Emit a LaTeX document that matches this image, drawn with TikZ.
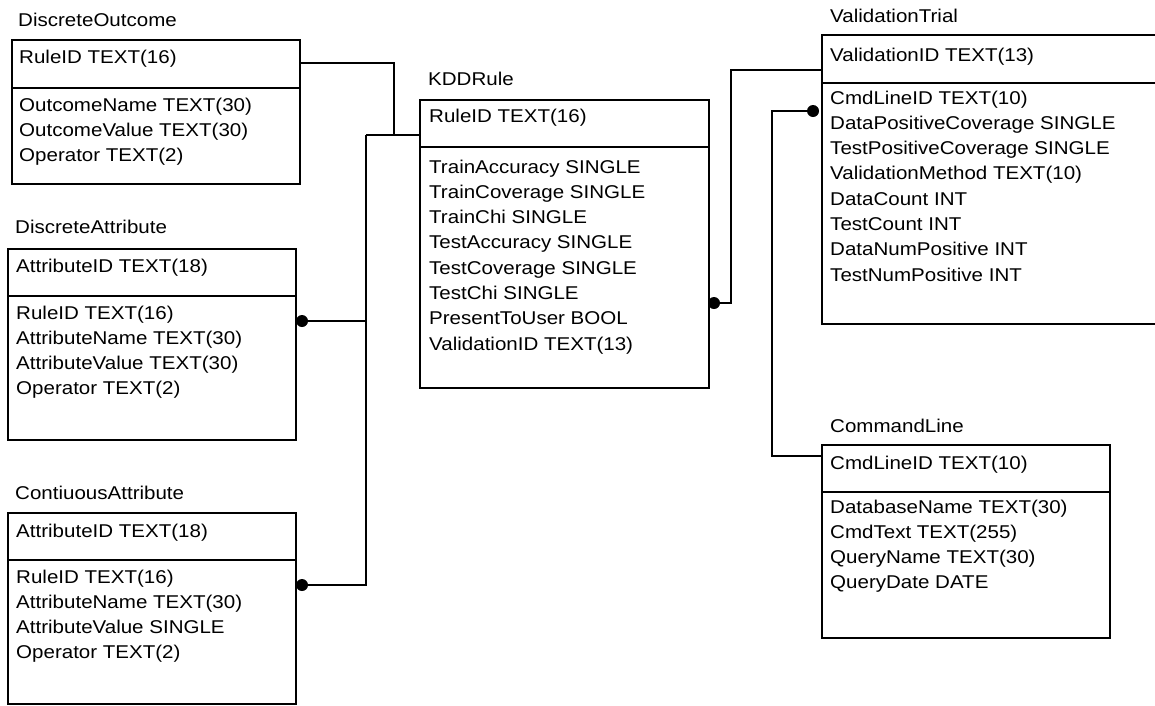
\documentclass[tikz,border=0pt]{standalone}
\usepackage{fontspec}
\setmainfont{Liberation Sans}[FakeStretch=1.11]
\begin{document}
\begin{tikzpicture}[x=1pt,y=-1pt,font=\fontsize{18.5}{22}\selectfont,
  ent/.style={draw, line width=1.7pt, rectangle, inner sep=0pt, anchor=north west},
  fld/.style={anchor=base west, inner sep=0pt},
  ttl/.style={anchor=base west, inner sep=0pt},
  conn/.style={line width=1.7pt},
  fkdot/.style={circle, fill=black, inner sep=0pt, minimum size=12pt}]
\useasboundingbox (0,0) rectangle (1155,705);
\newcommand\fieldrows[4]{%
  \foreach \t [count=\i] in {#4} {\node[fld] (#1-\i) at (#2,{#3+25.3*(\i-1)}) {\t};}}

% DiscreteOutcome
\node[ttl] (do-t) at (18,26) {DiscreteOutcome};
\node[ent, minimum width=288pt, minimum height=144pt] (do) at (11,39) {};
\draw[conn] (do.west |- 0,88) -- (do.east |- 0,88);
\node[fld] (do-k) at (19,63) {RuleID TEXT(16)};
\fieldrows{do}{19}{111}{OutcomeName TEXT(30),OutcomeValue TEXT(30),Operator TEXT(2)}

% DiscreteAttribute
\node[ttl] (da-t) at (15,233) {DiscreteAttribute};
\node[ent, minimum width=288pt, minimum height=191pt] (da) at (7,248) {};
\draw[conn] (da.west |- 0,296) -- (da.east |- 0,296);
\node[fld] (da-k) at (16,272) {AttributeID TEXT(18)};
\fieldrows{da}{16}{319}{RuleID TEXT(16),AttributeName TEXT(30),AttributeValue TEXT(30),Operator TEXT(2)}

% ContiuousAttribute
\node[ttl] (ca-t) at (15,499) {ContiuousAttribute};
\node[ent, minimum width=288pt, minimum height=191pt] (ca) at (7,512) {};
\draw[conn] (ca.west |- 0,560) -- (ca.east |- 0,560);
\node[fld] (ca-k) at (16,537) {AttributeID TEXT(18)};
\fieldrows{ca}{16}{583}{RuleID TEXT(16),AttributeName TEXT(30),AttributeValue SINGLE,Operator TEXT(2)}

% KDDRule
\node[ttl] (kdd-t) at (428,85) {KDDRule};
\node[ent, minimum width=289pt, minimum height=288pt] (kdd) at (419,99) {};
\draw[conn] (kdd.west |- 0,147) -- (kdd.east |- 0,147);
\node[fld] (kdd-k) at (429,122) {RuleID TEXT(16)};
\fieldrows{kdd}{429}{173}{TrainAccuracy SINGLE,TrainCoverage SINGLE,TrainChi SINGLE,TestAccuracy SINGLE,TestCoverage SINGLE,TestChi SINGLE,PresentToUser BOOL,ValidationID TEXT(13)}

% ValidationTrial
\node[ttl] (vt-t) at (830,22) {ValidationTrial};
\node[ent, minimum width=340pt, minimum height=289pt] (vt) at (821,34) {};
\draw[conn] (vt.west |- 0,83) -- (vt.east |- 0,83);
\node[fld] (vt-k) at (830,61) {ValidationID TEXT(13)};
\fieldrows{vt}{830}{104}{CmdLineID TEXT(10),DataPositiveCoverage SINGLE,TestPositiveCoverage SINGLE,ValidationMethod TEXT(10),DataCount INT,TestCount INT,DataNumPositive INT,TestNumPositive INT}

% CommandLine
\node[ttl] (cl-t) at (830,432) {CommandLine};
\node[ent, minimum width=288pt, minimum height=193pt] (cl) at (821,444) {};
\draw[conn] (cl.west |- 0,492) -- (cl.east |- 0,492);
\node[fld] (cl-k) at (830,469) {CmdLineID TEXT(10)};
\fieldrows{cl}{830}{513}{DatabaseName TEXT(30),CmdText TEXT(255),QueryName TEXT(30),QueryDate DATE}

% foreign-key dots
\node[fkdot] (dot1) at (302,321) {};
\node[fkdot] (dot2) at (302,585) {};
\node[fkdot] (dot3) at (714,303) {};
\node[fkdot] (dot4) at (813,111) {};

% junctions
\coordinate (jA) at (366,135);
\coordinate (jB) at (394,135);
\coordinate (jC) at (731,70);
\coordinate (jD) at (772,456);

% connectors
\draw[conn] (do.east |- 0,63) -| (jB);
\draw[conn] (jA) -- (kdd.west |- jA);
\draw[conn] (jA) |- (dot2.center);
\draw[conn] (dot1.center) -- (dot1.center -| jA);
\draw[conn] (dot3.center) -| (jC) -- (vt.west |- jC);
\draw[conn] (dot4.center) -| (jD) -- (cl.west |- jD);
\end{tikzpicture}
\end{document}
